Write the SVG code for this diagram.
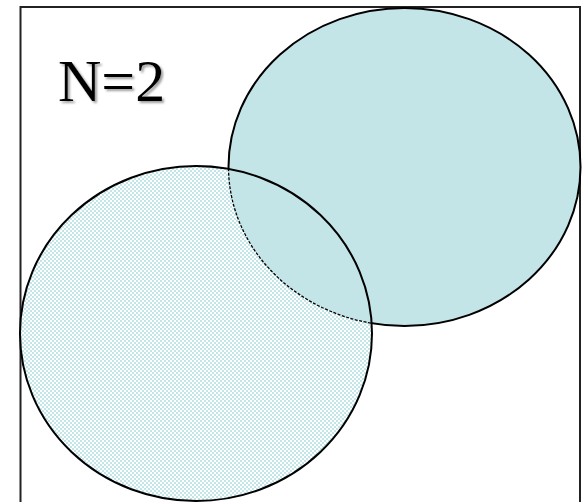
<svg xmlns="http://www.w3.org/2000/svg" width="584" height="502" viewBox="0 0 584 502">
  <style>
    .outline { stroke: #000; stroke-width: 2; }
    .label { font-family: "Liberation Serif", Tinos, "Times New Roman", Times, serif; font-size: 60px; fill: #000; }
  </style>
  <defs>
    <pattern id="checker" x="0" y="0" width="4" height="4" patternUnits="userSpaceOnUse">
      <rect width="4" height="4" fill="#ffffff"/>
      <rect x="0" y="0" width="2" height="2" fill="#c2e5e8"/>
      <rect x="2" y="2" width="2" height="2" fill="#c2e5e8"/>
    </pattern>
    <clipPath id="leftClip">
      <ellipse cx="196" cy="333.5" rx="176" ry="167.5"/>
    </clipPath>
    <filter id="shadow" x="-10%" y="-10%" width="130%" height="130%">
      <feDropShadow dx="2" dy="2" stdDeviation="0.8" flood-color="#888" flood-opacity="0.8"/>
    </filter>
  </defs>
  <rect x="0" y="0" width="584" height="502" fill="#fff"/>
  <g id="frame">
    <rect x="20.5" y="7" width="559.5" height="520" fill="none" stroke="#222" stroke-width="2"/>
  </g>
  <g id="label">
    <text class="label" x="58" y="101" filter="url(#shadow)">N=2</text>
  </g>
  <g id="setB">
    <ellipse cx="404.5" cy="167" rx="176" ry="159" fill="#c4e5e8" class="outline"/>
  </g>
  <g id="setA">
    <ellipse cx="196" cy="333.5" rx="176" ry="167.5" fill="url(#checker)"/>
    <ellipse cx="404.5" cy="167" rx="176" ry="159" fill="#c4e5e8" clip-path="url(#leftClip)"/>
  </g>
  <g id="connectors">
    <ellipse cx="404.5" cy="167" rx="176" ry="159" fill="none" stroke="#000" stroke-width="1.3" stroke-dasharray="3 1.5" clip-path="url(#leftClip)"/>
    <ellipse cx="196" cy="333.5" rx="176" ry="167.5" fill="none" class="outline"/>
  </g>
</svg>
